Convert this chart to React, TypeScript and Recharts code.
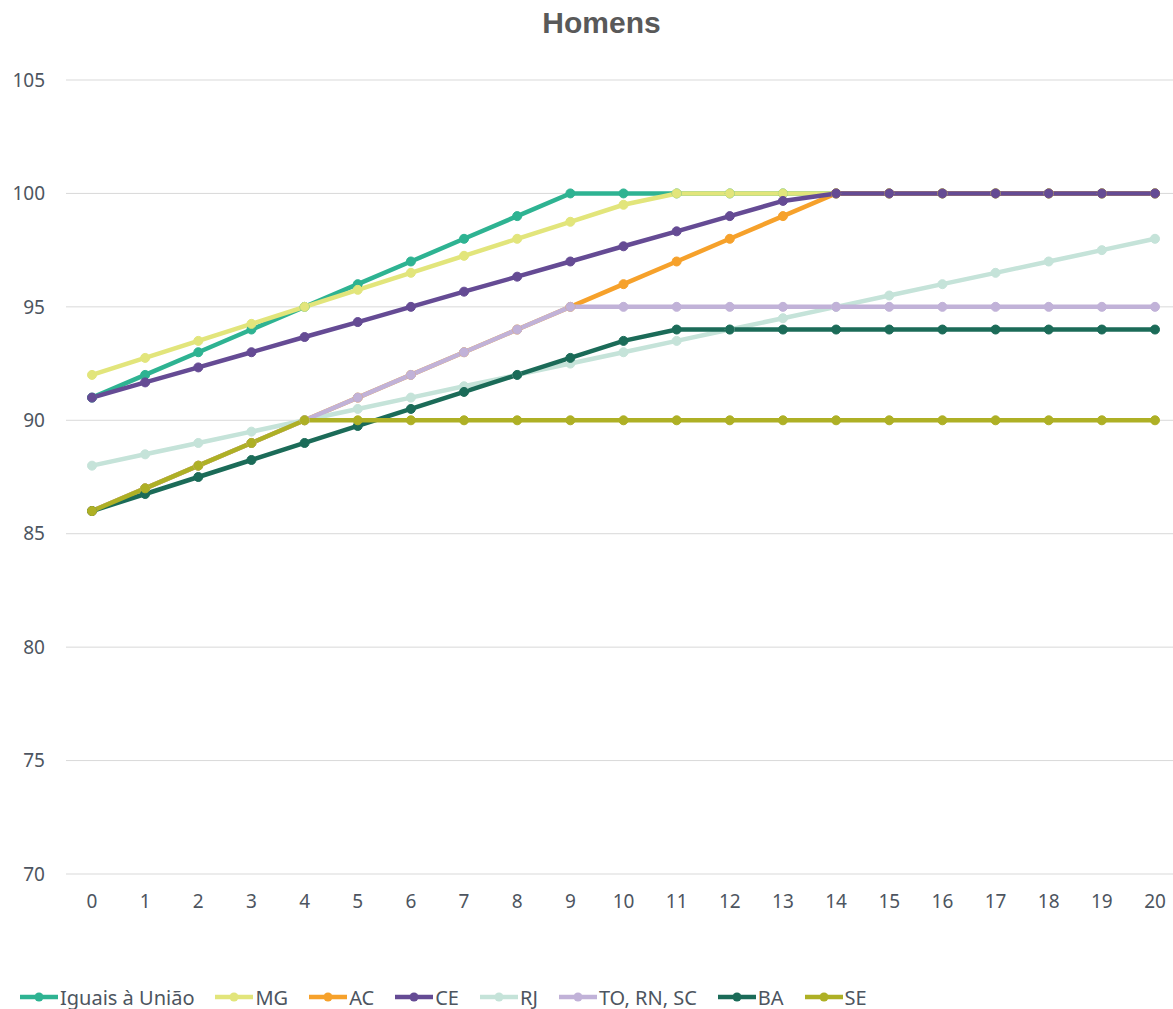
import React from "react";
import { LineChart, Line, XAxis, YAxis, CartesianGrid, Legend } from "recharts";

const anos = ["0","1","2","3","4","5","6","7","8","9","10","11","12","13","14","15","16","17","18","19","20"];
const iguais = [91,92,93,94,95,96,97,98,99,100,100,100,100,100,100,100,100,100,100,100,100];
const mg = [92,92.75,93.5,94.25,95,95.75,96.5,97.25,98,98.75,99.5,100,100,100,100,100,100,100,100,100,100];
const ac = [86,87,88,89,90,91,92,93,94,95,96,97,98,99,100,100,100,100,100,100,100];
const ce = [91,91.67,92.33,93,93.67,94.33,95,95.67,96.33,97,97.67,98.33,99,99.67,100,100,100,100,100,100,100];
const rj = [88,88.5,89,89.5,90,90.5,91,91.5,92,92.5,93,93.5,94,94.5,95,95.5,96,96.5,97,97.5,98];
const toRnSc = [86,87,88,89,90,91,92,93,94,95,95,95,95,95,95,95,95,95,95,95,95];
const ba = [86,86.75,87.5,88.25,89,89.75,90.5,91.25,92,92.75,93.5,94,94,94,94,94,94,94,94,94,94];
const se = [86,87,88,89,90,90,90,90,90,90,90,90,90,90,90,90,90,90,90,90,90];
const yTicks = [70,75,80,85,90,95,100,105];

const series = [
  { key: "iguais", name: "Iguais à União", values: iguais, color: "#2EB392" },
  { key: "mg", name: "MG", values: mg, color: "#E2E57B" },
  { key: "ac", name: "AC", values: ac, color: "#F6A12B" },
  { key: "ce", name: "CE", values: ce, color: "#654B94" },
  { key: "rj", name: "RJ", values: rj, color: "#C5E3D9" },
  { key: "to", name: "TO, RN, SC", values: toRnSc, color: "#C1B2D8" },
  { key: "ba", name: "BA", values: ba, color: "#1B6B58" },
  { key: "se", name: "SE", values: se, color: "#AEB025" },
];

const data = anos.map((a, i) => {
  const row: Record<string, string | number> = { ano: a };
  series.forEach((s) => { row[s.key] = s.values[i]; });
  return row;
});

const FONT = "'Noto Sans', sans-serif";
const TXT = "#4D5560";

const LegendContent = () => (
  <div style={{ display: "flex", alignItems: "center", height: 30, fontFamily: FONT, fontSize: 20, color: TXT }}>
    {series.map((s) => (
      <div key={s.key} style={{ display: "flex", alignItems: "center", marginRight: 21 }}>
        <svg width={38} height={12} style={{ marginRight: 2 }}>
          <line x1={0} y1={6} x2={38} y2={6} stroke={s.color} strokeWidth={4.5} />
          <circle cx={19} cy={6} r={4.5} fill={s.color} />
        </svg>
        <span>{s.name}</span>
      </div>
    ))}
  </div>
);

export default function App() {
  return (
    <div style={{ position: "absolute", left: 0, top: 0, width: 1173, height: 1009, overflow: "hidden", background: "#fff" }}>
      <div style={{ position: "absolute", left: 30, top: 6, width: 1143, textAlign: "center", fontFamily: "'Liberation Sans', Arial, sans-serif", fontWeight: 700, fontSize: 30, color: "#595959" }}>
        Homens
      </div>
      <div style={{ position: "absolute", left: 0, top: 0 }}>
        <LineChart width={1181} height={1009} data={data} margin={{ top: 80, right: 0, left: 0, bottom: 75 }}>
          <CartesianGrid vertical={false} stroke="#D9D9D9" strokeWidth={1} />
          <XAxis dataKey="ano" axisLine={false} tickLine={false} padding={{ left: 26, right: 26 }}
            tick={{ fill: TXT, fontSize: 19, fontFamily: FONT }} tickMargin={15} height={30} interval={0} />
          <YAxis domain={[70, 105]} ticks={yTicks} axisLine={false} tickLine={false} width={66}
            tick={{ fill: TXT, fontSize: 19, fontFamily: FONT }} tickMargin={15} />
          <Legend verticalAlign="bottom" align="left" content={<LegendContent />}
            wrapperStyle={{ left: 20, bottom: -3, height: 30, width: 1100 }} />
          {series.map((s) => (
            <Line key={s.key} dataKey={s.key} name={s.name} stroke={s.color} strokeWidth={4.5}
              dot={{ r: 4.5, fill: s.color, stroke: s.color, strokeWidth: 1 }} isAnimationActive={false} />
          ))}
        </LineChart>
      </div>
    </div>
  );
}
